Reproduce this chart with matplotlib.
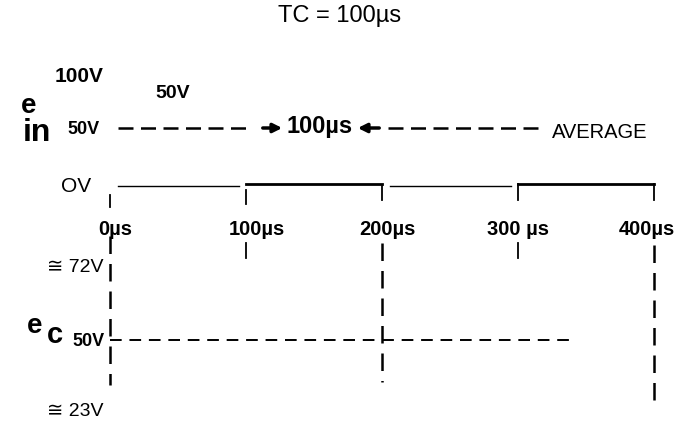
import matplotlib
matplotlib.use("Agg")
import matplotlib.pyplot as plt

# ---------------- data ----------------
times = [0, 100, 200, 300, 400]                 # µs
tick_labels = ["0\u00b5s", "100\u00b5s", "200\u00b5s", "300 \u00b5s", "400\u00b5s"]
ein_state = [0, 1, 0, 1]                        # low / high for each 100 µs interval
tc_label = "TC = 100\u00b5s"
ec_vertical_times = [0, 200, 400]               # dashed transitions of e_c
ec_avg_end = 338                                # µs, end of the 50 V average dash
# ---------------------------------------

W, H = 683, 422
fig = plt.figure(figsize=(W / 100, H / 100), dpi=100)
ax = fig.add_axes([0, 0, 1, 1])
x0_px, px_per_us = 110, 1.36
ax.set_xlim(-x0_px / px_per_us, (W - x0_px) / px_per_us)
ax.set_ylim(H, 0)
ax.axis("off")

FONT = ["Liberation Sans", "DejaVu Sans"]
plt.rcParams["font.family"] = FONT


def txt(x, y, s, size=12, weight="bold", ha="left", va="center"):
    fig.text(x / W, 1 - y / H, s, fontsize=size, fontweight=weight,
             ha=ha, va=va, family=FONT)


def px2t(px):
    return (px - x0_px) / px_per_us


# ---- top trace: square wave ----
y_low, y_high = 186, 184
for i, st in enumerate(ein_state):
    t_a, t_b = times[i], times[i + 1]
    if st == 0:
        ax.plot([t_a + 6, t_b - 5], [y_low, y_low], color="black", lw=1.0)
    else:
        ax.plot([t_a, t_b], [y_high, y_high], color="black", lw=2.0)
# small ticks below the trace
tick_spans = [(195, 207), (190, 204), (186, 200), (184, 200), (184, 200)]
for t, (ya, yb) in zip(times, tick_spans):
    ax.plot([t, t], [ya, yb], color="black", lw=1.3)

# tick labels
label_px = [115, 257, 387, 518, 647]
for lx, lab in zip(label_px, tick_labels):
    txt(lx, 230, lab, size=14.5, ha="center")

# ---- e_c vertical dashed lines ----
ec_spans = {0: (236, 385), 200: (243, 382), 400: (245, 405)}
for t in ec_vertical_times:
    ya, yb = ec_spans[t]
    ax.plot([t, t], [ya, yb], color="black", lw=1.8, ls=(0, (7, 4)))
for t in [100, 300]:
    ax.plot([t, t], [243, 258], color="black", lw=1.3)

# e_c 50 V average dashed line
ax.plot([0, ec_avg_end], [340, 340], color="black", lw=1.4, ls=(0, (6, 4)))

# ---- e_in average dashed line with 100 µs dimension ----
y_avg = 128
ax.plot([px2t(118), px2t(252)], [y_avg, y_avg], color="black", lw=1.8, ls=(0, (6, 3)))
ax.plot([px2t(388), px2t(545)], [y_avg, y_avg], color="black", lw=1.8, ls=(0, (6, 3)))
ax.annotate("", xy=(px2t(285), y_avg), xytext=(px2t(260), y_avg),
            arrowprops=dict(arrowstyle="-|>", color="black", lw=2.5, mutation_scale=13))
ax.annotate("", xy=(px2t(355), y_avg), xytext=(px2t(382), y_avg),
            arrowprops=dict(arrowstyle="-|>", color="black", lw=2.5, mutation_scale=13))

# ---- texts ----
txt(340, 16, tc_label, size=17, weight="normal", ha="center")
txt(55, 76, "100V", size=15)
txt(155, 93, "50V", size=14)
txt(21, 106, "e", size=20)
txt(23, 133, "in", size=23)
txt(67, 130, "50V", size=13)
txt(320, 127, "100\u00b5s", size=17, ha="center")
txt(552, 133, "AVERAGE", size=14.5, weight="normal")
txt(61, 186, "OV", size=15, weight="normal")
txt(47, 268, "\u2245 72V", size=14, weight="normal")
txt(27, 326, "e", size=20)
txt(47, 335, "c", size=21)
txt(72, 342, "50V", size=13)
txt(47, 411, "\u2245 23V", size=14, weight="normal")

fig.savefig("out.png", dpi=100)
